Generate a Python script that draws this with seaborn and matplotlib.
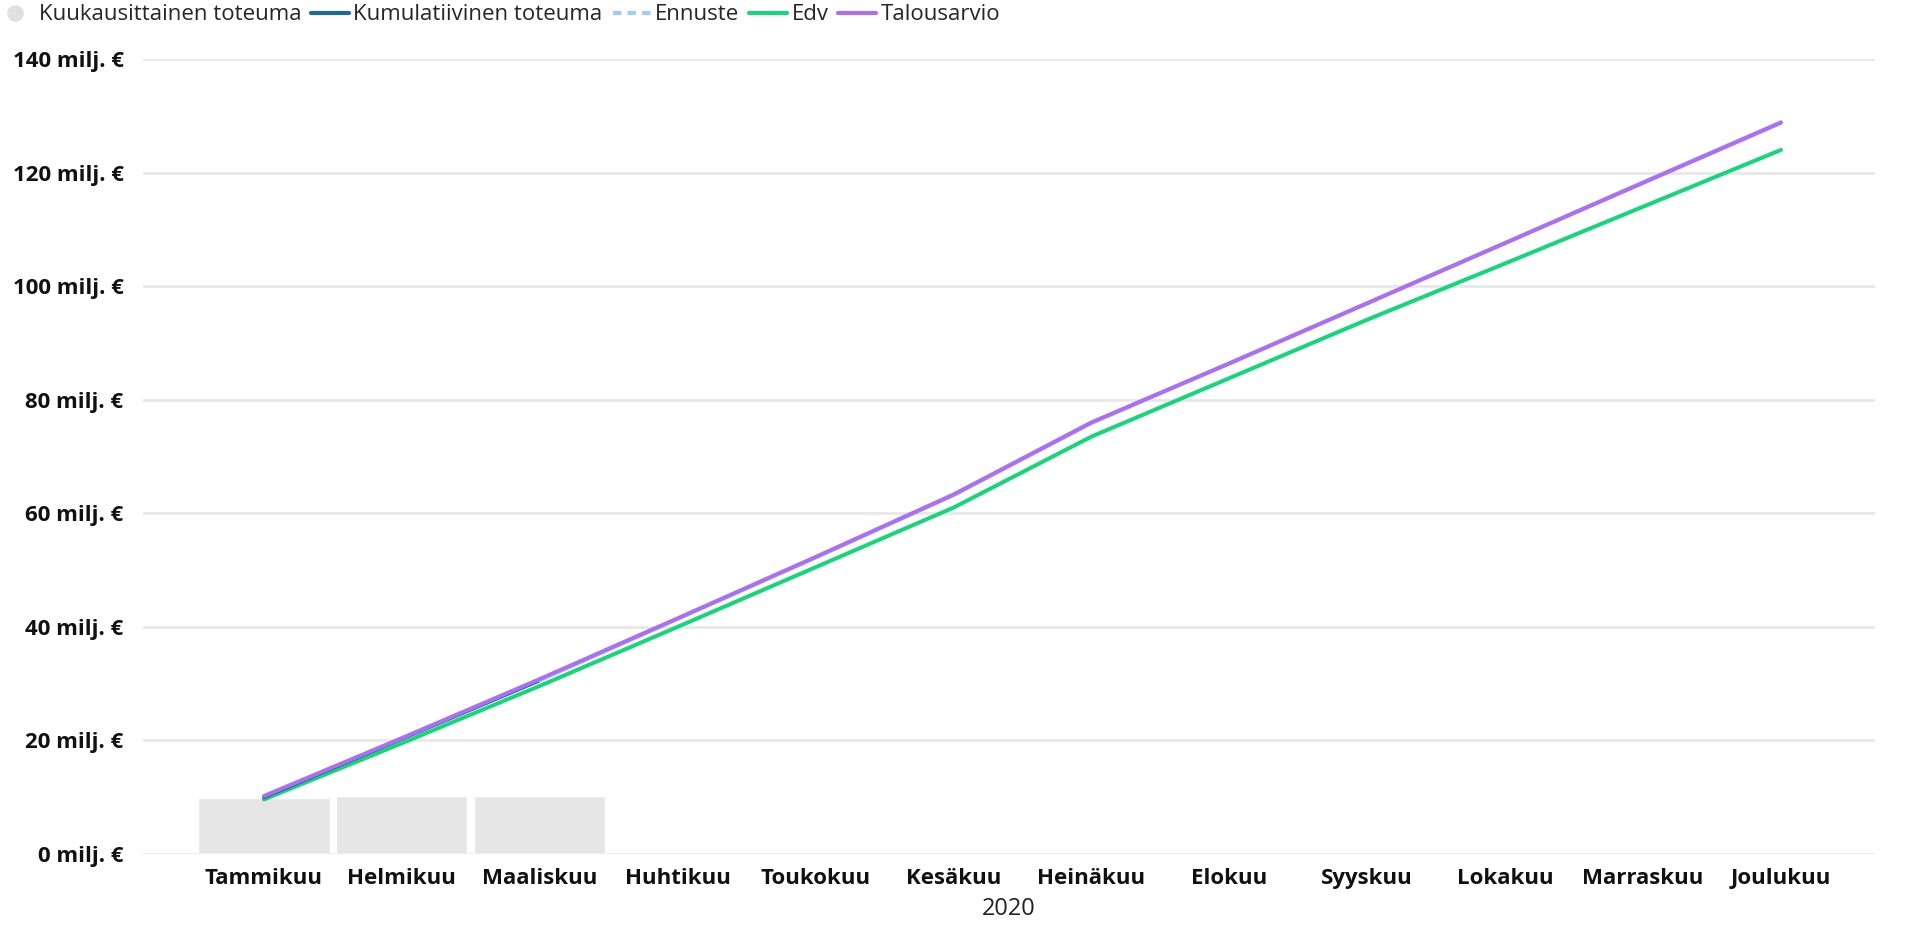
import numpy as np
import pandas as pd
import matplotlib
matplotlib.use('Agg')
import matplotlib.pyplot as plt
import seaborn as sns
from matplotlib.lines import Line2D

# --- data (milj. €) ---
months = ['Tammikuu', 'Helmikuu', 'Maaliskuu', 'Huhtikuu', 'Toukokuu', 'Kesäkuu',
          'Heinäkuu', 'Elokuu', 'Syyskuu', 'Lokakuu', 'Marraskuu', 'Joulukuu']
monthly_actual = [9.9, 10.2, 10.2]
cumulative_actual = [10.0, 20.3, 30.6]
forecast = [None, None, 30.6, 41.4, 52.2, 63.2, 75.9, 86.4, 97.0, 107.6, 118.3, 128.9]
edv = [9.6, 19.5, 29.6, 40.0, 50.5, 61.0, 73.5, 83.8, 94.1, 104.0, 114.0, 124.0]
budget = [10.2, 20.4, 30.8, 41.5, 52.3, 63.3, 76.0, 86.4, 97.0, 107.6, 118.2, 128.8]

col_bar = '#e6e6e6'
col_cum = '#1d6a98'
col_fc = '#a3cbf2'
col_edv = '#17d67a'
col_budget = '#ac6ef5'

sns.set_theme(style='white')
plt.rcParams['font.family'] = ['Open Sans', 'DejaVu Sans']

fig = plt.figure(figsize=(19.15, 9.27), dpi=100)
ax = fig.add_axes([0.0747, 0.0788, 0.9043, 0.8575])

bars = pd.DataFrame({'kk': months[:len(monthly_actual)], 'arvo': monthly_actual})
sns.barplot(data=bars, x='kk', y='arvo', order=months, color=col_bar, saturation=1,
            width=0.95, ax=ax, zorder=2)

pos = np.arange(len(months))
lw = 2.9
sns.lineplot(x=pos, y=edv, color=col_edv, lw=lw, ax=ax, zorder=3,
             solid_capstyle='round', clip_on=False)
sns.lineplot(x=pos[:len(cumulative_actual)], y=cumulative_actual, color=col_cum, lw=lw,
             ax=ax, zorder=4, solid_capstyle='round', clip_on=False)
fc = pd.Series(forecast, dtype=float)
sns.lineplot(x=pos[fc.notna()], y=fc.dropna().values, color=col_fc, lw=lw, ax=ax,
             zorder=5, clip_on=False)
sns.lineplot(x=pos, y=budget, color=col_budget, lw=lw, ax=ax, zorder=6,
             solid_capstyle='round', clip_on=False)

ax.set_xlim(-0.877, 11.68)
ax.set_ylim(0, 140)
ax.set_yticks(range(0, 141, 20))
ax.set_yticklabels([f'{v} milj. €' for v in range(0, 141, 20)])
ax.set_xticks(pos)
ax.set_xticklabels(months)
for lbl in ax.get_xticklabels() + ax.get_yticklabels():
    lbl.set_fontweight('bold')
    lbl.set_fontsize(16)
    lbl.set_color('#111111')
ax.tick_params(axis='y', length=0, pad=14)
ax.tick_params(axis='x', length=0, pad=10)
ax.set_xlabel('2020', fontsize=17, color='#222222', labelpad=6)
ax.set_ylabel('')
ax.grid(axis='y', color='#e8e8e8', lw=2)
ax.set_axisbelow(True)
sns.despine(ax=ax, left=True, bottom=True)

handles = [
    Line2D([], [], marker='o', ls='none', color='#e0e0e0', markersize=11),
    Line2D([], [], color=col_cum, lw=3),
    Line2D([], [], color=col_fc, lw=3, ls=(0, (2, 1.5))),
    Line2D([], [], color=col_edv, lw=3),
    Line2D([], [], color=col_budget, lw=3),
]
labels = ['Kuukausittainen toteuma', 'Kumulatiivinen toteuma', 'Ennuste', 'Edv', 'Talousarvio']
fig.legend(handles, labels, loc='upper left', bbox_to_anchor=(-0.01, 1.012), ncol=5,
           frameon=False, fontsize=16, handlelength=1.7, handletextpad=0.2,
           columnspacing=0.45, borderaxespad=0.3)

fig.savefig('out.png', dpi=100)
